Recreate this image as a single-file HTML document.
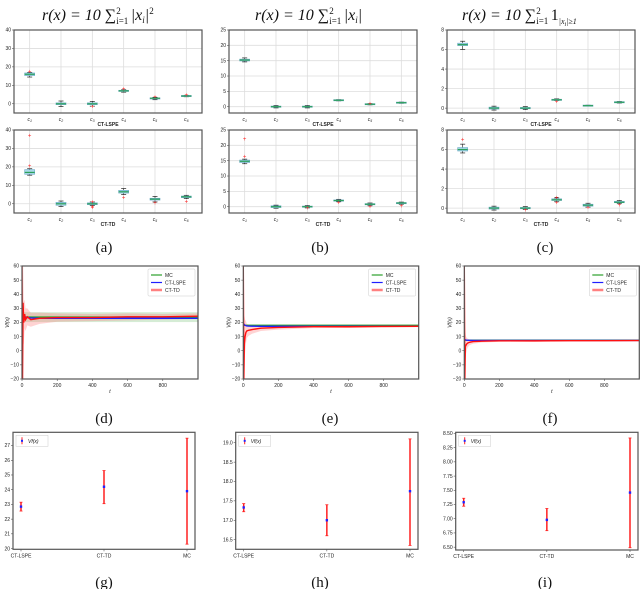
<!DOCTYPE html>
<html><head><meta charset="utf-8">
<style>
html,body{margin:0;padding:0;background:#fff;}
svg{display:block;font-family:"Liberation Sans",sans-serif;}
.tk{font-size:5px;fill:#222;}
.cap{font-family:"Liberation Serif",serif;font-size:15px;fill:#111;}
.ttl{font-family:"Liberation Serif",serif;font-size:16px;font-style:italic;fill:#111;}
</style></head>
<body>
<svg id="fig" width="640" height="589" viewBox="0 0 640 589">
<text class="ttl" x="42" y="20">r(x) = 10 ∑<tspan font-size="9" dy="4" font-style="normal">i=1</tspan><tspan font-size="9" dy="-10" dx="-12" font-style="normal">2</tspan><tspan dy="6" dx="6"> |x</tspan><tspan font-size="9" dy="3">i</tspan><tspan dy="-3">|</tspan><tspan font-size="9" dy="-6" font-style="normal">2</tspan></text>
<text class="ttl" x="255" y="20">r(x) = 10 ∑<tspan font-size="9" dy="4" font-style="normal">i=1</tspan><tspan font-size="9" dy="-10" dx="-12" font-style="normal">2</tspan><tspan dy="6" dx="6"> |x</tspan><tspan font-size="9" dy="3">i</tspan><tspan dy="-3">|</tspan></text>
<text class="ttl" x="462" y="20">r(x) = 10 ∑<tspan font-size="9" dy="4" font-style="normal">i=1</tspan><tspan font-size="9" dy="-10" dx="-12" font-style="normal">2</tspan><tspan dy="6" dx="6" font-style="normal"> 1</tspan><tspan font-size="8" dy="4">|x</tspan><tspan font-size="6" dy="2">i</tspan><tspan font-size="8" dy="-2">|≥1</tspan></text>
<g id="g"></g>
</svg>
<script>
// ---------- data ----------
const boxCats=["c1","c2","c3","c4","c5","c6"];
// [whiskerLo,q1,median,q3,whiskerHi]
const boxA1=[[14.5,15.3,16,16.7,17],[-1.5,-0.5,0,0.5,1.5],[-1.3,-0.5,0,0.5,1.3],[6.3,6.7,7,7.3,7.6],[2.2,2.6,3,3.2,3.5],[3.8,4,4.2,4.4,4.6]];
const outA1=[[17.5],[],[-1.5],[8],[3.8],[4.8]];
const boxA2=[[15.5,16,17,18.5,19],[-1.5,-0.8,0,0.8,1.5],[-1,-0.5,0,0.5,1],[5,5.8,6.5,7.3,8.3],[1,2,2.5,3,4],[2.8,3.3,3.8,4.2,4.6]];
const outA2=[[37,20.5],[],[1,-1.5,-2],[3.5],[0.3],[1.2]];
const boxB1=[[14.6,14.9,15.2,15.5,15.9],[-0.4,-0.2,0,0.2,0.4],[-0.4,-0.2,0,0.2,0.4],[1.9,2,2.1,2.2,2.3],[0.6,0.7,0.8,0.9,1],[1.1,1.2,1.3,1.4,1.5]];
const outB1=[[],[],[],[],[1],[]];
const boxB2=[[14,14.4,14.8,15.2,15.5],[-0.5,-0.3,0,0.3,0.5],[-0.4,-0.2,0,0.2,0.4],[1.6,1.8,2,2.2,2.4],[0.3,0.6,0.8,1,1.2],[0.8,1,1.2,1.3,1.5]];
const outB2=[[22,16.4],[],[-0.5],[1.3],[0],[0.3]];
const boxC1=[[6,6.4,6.5,6.65,6.85],[-0.2,-0.1,0,0.1,0.2],[-0.15,-0.07,0,0.07,0.15],[0.78,0.8,0.85,0.9,0.95],[0.2,0.22,0.25,0.28,0.3],[0.52,0.57,0.6,0.63,0.68]];
const outC1=[[],[],[],[0.7],[],[]];
const boxC2=[[5.65,5.85,6,6.2,6.55],[-0.2,-0.1,0,0.1,0.2],[-0.15,-0.07,0,0.07,0.15],[0.65,0.78,0.85,0.95,1.05],[0.1,0.2,0.3,0.4,0.5],[0.45,0.55,0.6,0.7,0.78]];
const outC2=[[7.05],[],[-0.2],[0.55,1.1],[0.05],[0.3]];

const tPts=[0,3,6,10,15,20,30,50,100,200,400,600,800,1000];
const tdD=[60,-20,34,20,26,22,24,22,23,23.5,23.5,24,24,24.5];
const lsD=[26,26,25,24.5,24,23.8,23.5,23.2,23,23,23,23,23,23];
const bandD=[40,40,30,15,10,8,6,5,4,3,2.5,2.5,2,2];
const mcD=23.8, mcBandD=3.5;
const tdE=[60,-20,5,10,13,14,14.5,15,16,16.5,17,17,17.2,17.3];
const lsE=[19,19,18.5,18,17.8,17.6,17.5,17.4,17.3,17.3,17.3,17.3,17.3,17.3];
const bandE=[40,40,20,12,8,5,4,3,2,1.5,1,0.8,0.7,0.6];
const mcE=18.0, mcBandE=0.6;
const tdF=[60,-20,3,4,5,5.5,6,6.5,6.8,7,7,7.1,7.1,7.2];
const lsF=[8,8,7.8,7.6,7.5,7.4,7.4,7.3,7.3,7.3,7.3,7.3,7.3,7.3];
const bandF=[40,40,10,6,4,3,2,1.5,1,0.7,0.5,0.4,0.3,0.3];
const mcF=7.46, mcBandF=0.3;

const errCats=["CT-LSPE","CT-TD","MC"];
const errG=[22.85,24.2,23.9], errGlo=[22.55,23.05,20.3], errGhi=[23.15,25.3,27.5];
const errH=[17.33,17.0,17.75], errHlo=[17.22,16.6,16.35], errHhi=[17.43,17.4,19.1];
const errI=[7.29,6.98,7.46], errIlo=[7.22,6.79,6.49], errIhi=[7.36,7.18,8.42];

const ticksA=[0,10,20,30,40], ticksB=[0,5,10,15,20,25], ticksC=[0,2,4,6,8];
const ticksLine=[-20,-10,0,10,20,30,40,50,60], ticksT=[0,200,400,600,800];
const ticksG=[20,21,22,23,24,25,26,27], ticksH=[16.5,17.0,17.5,18.0,18.5,19.0], ticksI=[6.5,6.75,7.0,7.25,7.5,7.75,8.0,8.25,8.5];
const fmtH=v=>v.toFixed(1), fmtI=v=>v.toFixed(2), fmtN=v=>String(v);

// ---------- drawing ----------
const NS="http://www.w3.org/2000/svg";
const G=document.getElementById('g');
function el(tag,attrs,parent){const e=document.createElementNS(NS,tag);for(const k in attrs)e.setAttribute(k,attrs[k]);(parent||G).appendChild(e);return e;}
function txt(s,x,y,cls,anchor,parent){const t=el('text',{x:x,y:y,class:cls,'text-anchor':anchor||'middle'},parent);t.textContent=s;return t;}
function lin(d0,d1,r0,r1){return v=>r0+(v-d0)/(d1-d0)*(r1-r0);}

function frame(x0,y0,x1,y1,name){
  const f=el('rect',{x:x0,y:y0,width:x1-x0,height:y1-y0,fill:'none',stroke:'#555','stroke-width':1.2});
  
  
}
function yTicks(g,ticks,y,x0,x1,grid,fmt){
  ticks.forEach(v=>{
    if(grid){const l=el('line',{x1:x0,x2:x1,y1:y(v),y2:y(v),stroke:'#ddd','stroke-width':0.8},g);}
    el('line',{x1:x0-2,x2:x0,y1:y(v),y2:y(v),stroke:'#333','stroke-width':0.5},g);
    const t=txt(fmt(v),x0-3,y(v)+1.7,'tk','end',g);
    
    
  });
}

function boxPlot(name,x0,x1,y0,y1,ymin,ymax,ticks,boxes,outs,xlabel){
  const g=el('g',{});
  
  
  const y=lin(ymin,ymax,y1,y0);
  const n=boxCats.length, step=(x1-x0)/n;
  const xc=i=>x0+step*(i+0.5);
  yTicks(g,ticks,y,x0,x1,true,fmtN);
  boxCats.forEach((c,i)=>{
    el('line',{x1:xc(i),x2:xc(i),y1:y0,y2:y1,stroke:'#ddd','stroke-width':0.8},g);
    const t=el('text',{x:xc(i),y:y1+8,class:'tk','text-anchor':'middle','font-style':'italic'},g);
    t.textContent='c';const s=el('tspan',{'font-size':3.5,dy:1},t);s.textContent=c.slice(1);
    
    
  });
  boxes.forEach((b,i)=>{
    const bg=el('g',{},g);
    
    
    const cx=xc(i),w=5;
    el('line',{x1:cx,x2:cx,y1:y(b[0]),y2:y(b[1]),stroke:'#222','stroke-width':0.6},bg);
    el('line',{x1:cx,x2:cx,y1:y(b[3]),y2:y(b[4]),stroke:'#222','stroke-width':0.6},bg);
    el('line',{x1:cx-w*0.5,x2:cx+w*0.5,y1:y(b[0]),y2:y(b[0]),stroke:'#222','stroke-width':0.7},bg);
    el('line',{x1:cx-w*0.5,x2:cx+w*0.5,y1:y(b[4]),y2:y(b[4]),stroke:'#222','stroke-width':0.7},bg);
    const h=Math.max(1.2,y(b[1])-y(b[3]));
    el('rect',{x:cx-w,y:(y(b[1])+y(b[3]))/2-h/2,width:2*w,height:h,fill:'#a8d8e8',stroke:'#6aa8c8','stroke-width':0.6},bg);
    el('line',{x1:cx-w,x2:cx+w,y1:y(b[2]),y2:y(b[2]),stroke:'#2ca05a','stroke-width':1.2},bg);
    outs[i].forEach(o=>{
      const m=el('text',{x:cx,y:y(o)+2,'text-anchor':'middle','font-size':6,fill:'#f22'},bg);m.textContent='+';
    });
  });
  frame(x0,y0,x1,y1,name);
  const xl=txt(xlabel,(x0+x1)/2,y1+13,'tk','middle',g);
  xl.setAttribute('font-weight','bold');
  
  
}

function linePlot(name,x0,x1,y0,y1,td,ls,band,mc,mcBand,showY){
  const g=el('g',{});
  
  
  const x=lin(0,1000,x0,x1), y=lin(-20,60,y1,y0);
  const clipId=name+'-clip';
  const cp=el('clipPath',{id:clipId},g);el('rect',{x:x0,y:y0,width:x1-x0,height:y1-y0},cp);
  const pg=el('g',{'clip-path':'url(#'+clipId+')'},g);
  el('rect',{x:x(0),y:y(mc+mcBand),width:x(1000)-x(0),height:y(mc-mcBand)-y(mc+mcBand),fill:'#2ca02c','fill-opacity':0.2},pg);
  let up=tPts.map((t,i)=>x(t)+','+y(td[i]+band[i])).join(' ');
  let dn=tPts.map((t,i)=>x(t)+','+y(td[i]-band[i])).reverse().join(' ');
  const b=el('polygon',{points:up+' '+dn,fill:'#ff8080','fill-opacity':0.35},pg);
  
  
  const m=el('line',{x1:x(0),x2:x(1000),y1:y(mc),y2:y(mc),stroke:'#2ca02c','stroke-width':1.4},pg);
  
  
  const l=el('polyline',{points:tPts.map((t,i)=>x(t)+','+y(ls[i])).join(' '),fill:'none',stroke:'#1f1fff','stroke-width':1.4},pg);
  
  
  const r=el('polyline',{points:tPts.map((t,i)=>x(t)+','+y(td[i])).join(' '),fill:'none',stroke:'#ff1010','stroke-width':1.4},pg);
  
  
  ticksLine.forEach(v=>{
    el('line',{x1:x0-2,x2:x0,y1:y(v),y2:y(v),stroke:'#333','stroke-width':0.5},g);
    const t=txt(String(v).replace('-','−'),x0-3,y(v)+1.7,'tk','end',g);
    
    
  });
  ticksT.forEach(v=>{
    el('line',{x1:x(v),x2:x(v),y1:y1,y2:y1+2,stroke:'#333','stroke-width':0.5},g);
    const t=txt(String(v),x(v),y1+8,'tk','middle',g);
    
    
  });
  frame(x0,y0,x1,y1,name);
  const xt=el('text',{x:(x0+x1)/2,y:y1+14,class:'tk','text-anchor':'middle','font-style':'italic'},g);xt.textContent='t';
  
  
  if(showY){
    const yt=el('text',{x:0,y:0,class:'tk','text-anchor':'middle','font-style':'italic',transform:'translate('+(x0-13)+','+((y0+y1)/2)+') rotate(-90)'},g);yt.textContent='Vf(x)';
    
    
  }
  const lg=el('g',{},g);
  
  
  const lx=x1-50, ly=y0+3;
  el('rect',{x:lx,y:ly,width:47,height:27,fill:'#fff',stroke:'#ccc','stroke-width':0.5,rx:1},lg);
  [['MC','#2ca02c',1.2],['CT-LSPE','#1f1fff',1.2],['CT-TD','#ff8080',2.5]].forEach((e,i)=>{
    el('line',{x1:lx+3,x2:lx+14,y1:ly+6+i*7.5,y2:ly+6+i*7.5,stroke:e[1],'stroke-width':e[2]},lg);
    const t=txt(e[0],lx+17,ly+8+i*7.5,'tk','start',lg);
    
    
  });
}

function errPlot(name,x0,x1,y0,y1,ymin,ymax,ticks,fmt,vals,lo,hi){
  const g=el('g',{});
  
  
  const y=lin(ymin,ymax,y1,y0);
  const xc=i=>x0+8+i*(x1-x0-16)/2;
  yTicks(g,ticks,y,x0,x1,false,fmt);
  errCats.forEach((c,i)=>{
    el('line',{x1:xc(i),x2:xc(i),y1:y1,y2:y1+2,stroke:'#333','stroke-width':0.5},g);
    const t=txt(c,xc(i),y1+8,'tk','middle',g);
    
    
    const eg=el('g',{},g);
    
    
    el('line',{x1:xc(i),x2:xc(i),y1:y(lo[i]),y2:y(hi[i]),stroke:'#ff2020','stroke-width':1.5},eg);
    el('line',{x1:xc(i)-1.5,x2:xc(i)+1.5,y1:y(lo[i]),y2:y(lo[i]),stroke:'#ff2020','stroke-width':0.8},eg);
    el('line',{x1:xc(i)-1.5,x2:xc(i)+1.5,y1:y(hi[i]),y2:y(hi[i]),stroke:'#ff2020','stroke-width':0.8},eg);
    el('rect',{x:xc(i)-1.2,y:y(vals[i])-1.2,width:2.4,height:2.4,fill:'#2020ff'},eg);
  });
  frame(x0,y0,x1,y1,name);
  const lg=el('g',{},g);
  
  
  el('rect',{x:x0+3,y:y0+3,width:32,height:11,fill:'#fff',stroke:'#ccc','stroke-width':0.5},lg);
  el('line',{x1:x0+9,x2:x0+9,y1:y0+5,y2:y0+12,stroke:'#ff2020','stroke-width':1},lg);
  el('rect',{x:x0+8,y:y0+7.5,width:2,height:2,fill:'#2020ff'},lg);
  const t=el('text',{x:x0+15,y:y0+10.5,class:'tk','font-style':'italic'},lg);t.textContent='Vf(x)';
}

boxPlot('boxplot-a-ct-lspe',14,202,30,113,-5,40,ticksA,boxA1,outA1,'CT-LSPE');
boxPlot('boxplot-a-ct-td',14,202,130,213,-5,40,ticksA,boxA2,outA2,'CT-TD');
boxPlot('boxplot-b-ct-lspe',229,417,30,113,-2.06,25,ticksB,boxB1,outB1,'CT-LSPE');
boxPlot('boxplot-b-ct-td',229,417,130,213,-2.06,25,ticksB,boxB2,outB2,'CT-TD');
boxPlot('boxplot-c-ct-lspe',447,635,30,113,-0.5,8,ticksC,boxC1,outC1,'CT-LSPE');
boxPlot('boxplot-c-ct-td',447,635,130,213,-0.5,8,ticksC,boxC2,outC2,'CT-TD');

linePlot('lineplot-d',22,198,266,379,tdD,lsD,bandD,mcD,mcBandD,true);
linePlot('lineplot-e',243.3,418.7,266,379,tdE,lsE,bandE,mcE,mcBandE,true);
linePlot('lineplot-f',464.3,639.3,266,379,tdF,lsF,bandF,mcF,mcBandF,true);

errPlot('errorbar-g',13,195,432.3,549.3,19.95,27.9,ticksG,fmtN,errG,errGlo,errGhi);
errPlot('errorbar-h',235.7,418,432.3,549.3,16.25,19.27,ticksH,fmtH,errH,errHlo,errHhi);
errPlot('errorbar-i',455.7,638,432.3,550,6.45,8.52,ticksI,fmtI,errI,errIlo,errIhi);

[['(a)',104,252],['(b)',320,252],['(c)',545,252],['(d)',104,423],['(e)',330,423],['(f)',550,423],['(g)',104,587],['(h)',320,587],['(i)',545,587]].forEach(c=>{
  const t=txt(c[0],c[1],c[2],'cap','middle');
  
  
});
</script>
</body></html>
